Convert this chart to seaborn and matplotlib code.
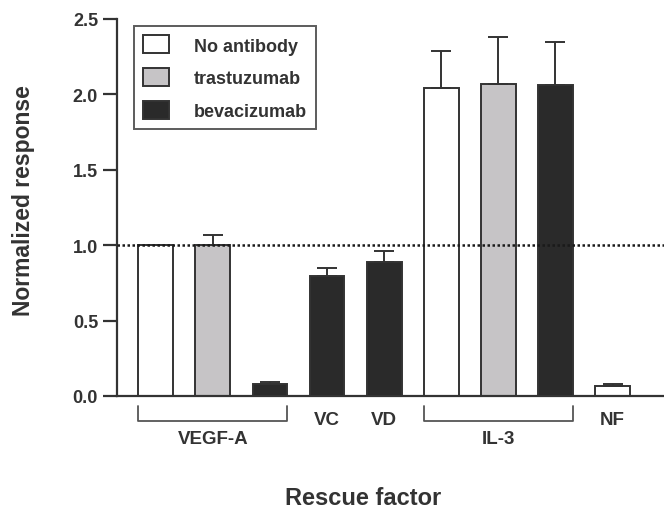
import numpy as np
import pandas as pd
import matplotlib.pyplot as plt
import matplotlib.patches as mpatches
import matplotlib.transforms as mtransforms
import seaborn as sns

sns.set_style('ticks')
plt.rcParams['font.family'] = ['Liberation Sans', 'DejaVu Sans']
plt.rcParams['font.weight'] = 'bold'

# bar slots along the x axis (left to right)
slots = ['VEGF-A none', 'VEGF-A tras', 'VEGF-A beva', 'VC', 'VD',
         'IL-3 none', 'IL-3 tras', 'IL-3 beva', 'NF']
antibody = ['No antibody', 'trastuzumab', 'bevacizumab', 'bevacizumab', 'bevacizumab',
            'No antibody', 'trastuzumab', 'bevacizumab', 'No antibody']
response = [1.00, 1.00, 0.08, 0.795, 0.89, 2.04, 2.07, 2.065, 0.067]
error_up = [0.00, 0.07, 0.012, 0.055, 0.07, 0.245, 0.31, 0.28, 0.015]

hue_order = ['No antibody', 'trastuzumab', 'bevacizumab']
colors = ['#ffffff', '#c6c4c6', '#2a2a2a']

# group labels under the axis
group_names = ['VEGF-A', 'IL-3']
group_slots = [(0, 2), (5, 7)]
single_names = ['VC', 'VD', 'NF']
single_slots = [3, 4, 8]

df = pd.DataFrame({'slot': slots, 'antibody': antibody, 'response': response})

fig = plt.figure(figsize=(6.64, 5.10), dpi=100)
ax = fig.add_axes([0.176, 0.2216, 0.824, 0.7394])

edge = '#333333'
sns.barplot(data=df, x='slot', y='response', hue='antibody', order=slots,
            hue_order=hue_order, palette=colors, dodge=False, width=0.61,
            edgecolor=edge, linewidth=1.4, errorbar=None, legend=False, ax=ax)

ax.errorbar(np.arange(len(slots)), response,
            yerr=[np.zeros(len(slots)), error_up], fmt='none',
            ecolor=edge, elinewidth=1.4, capsize=7.5, capthick=1.4, zorder=1)

ax.axhline(1.0, color='#1a1a1a', lw=1.8, ls=(0, (1, 1)), zorder=3)

ax.set_xlim(-0.68, 8.9)
ax.set_ylim(0, 2.5)
ax.set_yticks([0, 0.5, 1.0, 1.5, 2.0, 2.5])
ax.set_yticklabels(['0.0', '0.5', '1.0', '1.5', '2.0', '2.5'])
ax.set_xticks([])
sns.despine(ax=ax)
for s in ['left', 'bottom']:
    ax.spines[s].set_linewidth(1.6)
    ax.spines[s].set_color(edge)
ax.tick_params(axis='y', length=10, width=1.6, color=edge, labelsize=13,
               labelcolor='#333333', pad=3.5)

ax.set_ylabel('Normalized response', fontsize=16.5, fontweight='bold', color='#333333')
ax.yaxis.set_label_coords(-0.15, 0.52)
ax.set_xlabel('Rescue factor', fontsize=17, fontweight='bold', color='#333333')
ax.xaxis.set_label_coords(0.45, -0.24)

trans = mtransforms.blended_transform_factory(ax.transData, ax.transAxes)
half = 0.305
for name, (a, b) in zip(group_names, group_slots):
    ax.plot([a - half, a - half, b + half, b + half], [-0.027, -0.066, -0.066, -0.027],
            transform=trans, color='#555555', lw=1.3, clip_on=False)
    ax.text((a + b) / 2, -0.113, name, transform=trans, ha='center', va='center',
            fontsize=13.5, fontweight='bold', color='#333333')
for name, pos in zip(single_names, single_slots):
    ax.text(pos, -0.062, name, transform=trans, ha='center', va='center',
            fontsize=13.5, fontweight='bold', color='#333333')

handles = [mpatches.Patch(facecolor=c, edgecolor=edge, linewidth=1.4) for c in colors]
leg = ax.legend(handles, hue_order, loc='upper left', bbox_to_anchor=(0.031, 0.98),
                frameon=True, fancybox=False, edgecolor=edge, borderaxespad=0,
                handlelength=1.44, handleheight=1.16, handletextpad=1.38,
                labelspacing=0.75, borderpad=0.5, prop={'weight': 'bold', 'size': 13})
leg.get_frame().set_linewidth(1.4)
for t in leg.get_texts():
    t.set_color('#333333')

fig.savefig('out.png', dpi=100)
